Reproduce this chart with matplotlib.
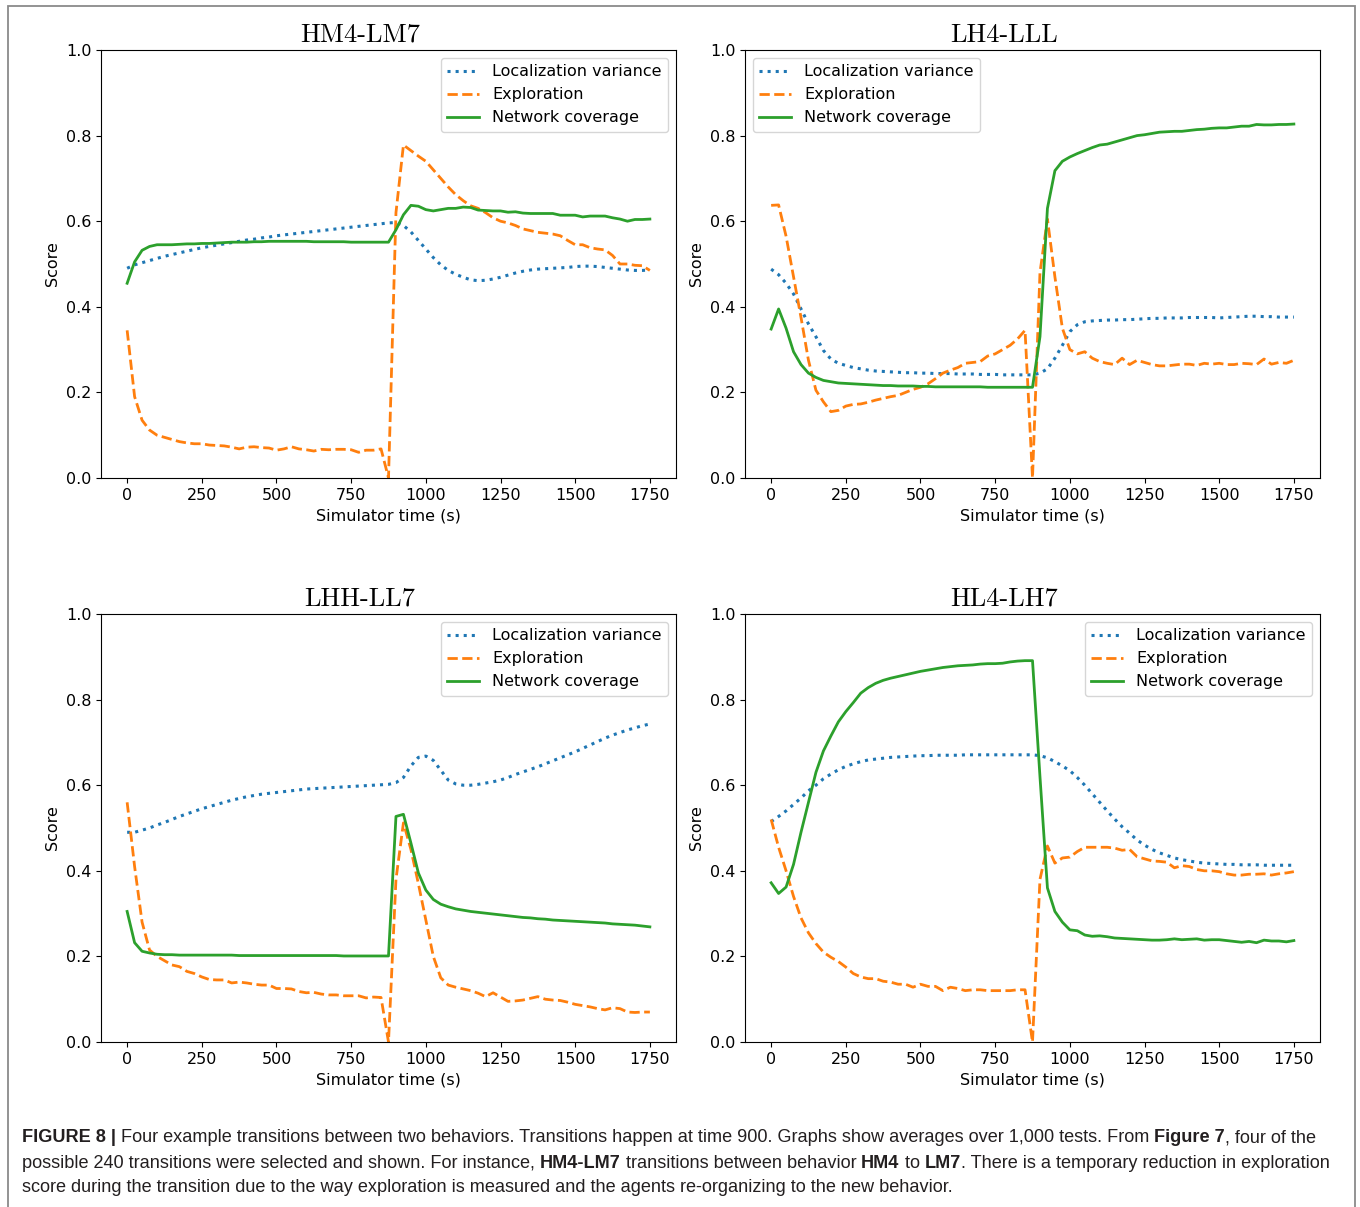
import numpy as np
import matplotlib
matplotlib.use("Agg")
import matplotlib.pyplot as plt
from matplotlib.patches import Rectangle

# simulator time, one sample every 25 s
time_s = np.arange(0, 1751, 25)

titles = ["HM4-LM7", "LH4-LLL", "LHH-LL7", "HL4-LH7"]
legend_loc = ["upper right", "upper left", "upper right", "upper right"]

hm4_loc = [0.490, 0.498, 0.503, 0.508, 0.513, 0.518, 0.522, 0.526, 0.530, 0.534,
           0.538, 0.541, 0.544, 0.547, 0.550, 0.553, 0.556, 0.558, 0.561, 0.563,
           0.566, 0.568, 0.570, 0.572, 0.574, 0.576, 0.578, 0.580, 0.582, 0.584,
           0.586, 0.588, 0.590, 0.592, 0.594, 0.596,
           0.597, 0.590, 0.575, 0.555, 0.535, 0.515, 0.498, 0.485, 0.476, 0.469,
           0.463, 0.461, 0.462, 0.465, 0.469, 0.474, 0.479, 0.483, 0.486, 0.488,
           0.489, 0.490, 0.491, 0.492, 0.494, 0.495, 0.495, 0.494, 0.492, 0.490,
           0.488, 0.486, 0.485, 0.485, 0.486]
hm4_exp = [0.345, 0.190, 0.135, 0.112, 0.100, 0.095, 0.090, 0.085, 0.082, 0.080,
           0.080, 0.077, 0.076, 0.075, 0.072, 0.068, 0.072, 0.073, 0.071, 0.070,
           0.065, 0.068, 0.073, 0.068, 0.066, 0.063, 0.067, 0.066, 0.067, 0.067,
           0.066, 0.060, 0.065, 0.065, 0.068, 0.000,
           0.620, 0.778, 0.765, 0.752, 0.740, 0.720, 0.700, 0.680, 0.662, 0.648,
           0.636, 0.630, 0.620, 0.608, 0.600, 0.596, 0.590, 0.582, 0.578, 0.574,
           0.572, 0.570, 0.566, 0.555, 0.545, 0.545, 0.538, 0.535, 0.533, 0.520,
           0.500, 0.500, 0.497, 0.496, 0.485]
hm4_net = [0.455, 0.505, 0.532, 0.541, 0.545, 0.545, 0.545, 0.546, 0.547, 0.547,
           0.548, 0.548, 0.549, 0.550, 0.551, 0.551, 0.551, 0.552, 0.552, 0.553,
           0.553, 0.553, 0.553, 0.553, 0.553, 0.552, 0.552, 0.552, 0.552, 0.552,
           0.551, 0.551, 0.551, 0.551, 0.551, 0.551,
           0.580, 0.615, 0.637, 0.635, 0.627, 0.624, 0.627, 0.630, 0.630, 0.633,
           0.632, 0.626, 0.625, 0.624, 0.624, 0.621, 0.622, 0.619, 0.618, 0.618,
           0.618, 0.618, 0.614, 0.614, 0.614, 0.610, 0.612, 0.612, 0.612, 0.608,
           0.605, 0.600, 0.604, 0.604, 0.605]

lh4_loc = [0.488, 0.475, 0.455, 0.430, 0.395, 0.360, 0.330, 0.298, 0.278, 0.268,
           0.263, 0.258, 0.255, 0.252, 0.250, 0.249, 0.248, 0.247, 0.246, 0.246,
           0.245, 0.245, 0.244, 0.244, 0.244, 0.243, 0.243, 0.243, 0.242, 0.242,
           0.242, 0.241, 0.241, 0.241, 0.241, 0.241,
           0.245, 0.255, 0.280, 0.310, 0.342, 0.358, 0.365, 0.367, 0.368, 0.369,
           0.369, 0.370, 0.370, 0.371, 0.372, 0.373, 0.373, 0.374, 0.374, 0.374,
           0.375, 0.375, 0.375, 0.375, 0.374, 0.375, 0.376, 0.377, 0.378, 0.378,
           0.377, 0.377, 0.376, 0.376, 0.376]
lh4_exp = [0.637, 0.638, 0.565, 0.470, 0.375, 0.275, 0.205, 0.178, 0.155, 0.158,
           0.168, 0.172, 0.173, 0.177, 0.182, 0.186, 0.190, 0.193, 0.200, 0.207,
           0.212, 0.220, 0.232, 0.245, 0.252, 0.258, 0.268, 0.270, 0.272, 0.285,
           0.290, 0.300, 0.310, 0.325, 0.345, 0.000,
           0.480, 0.605, 0.470, 0.350, 0.300, 0.290, 0.295, 0.280, 0.272, 0.268,
           0.265, 0.280, 0.265, 0.275, 0.270, 0.265, 0.262, 0.262, 0.264, 0.266,
           0.266, 0.263, 0.268, 0.266, 0.268, 0.265, 0.265, 0.268, 0.267, 0.265,
           0.278, 0.266, 0.270, 0.268, 0.275]
lh4_net = [0.348, 0.395, 0.350, 0.295, 0.265, 0.245, 0.235, 0.228, 0.225, 0.222,
           0.221, 0.220, 0.219, 0.218, 0.217, 0.216, 0.216, 0.215, 0.215, 0.215,
           0.214, 0.214, 0.213, 0.213, 0.213, 0.213, 0.213, 0.213, 0.213, 0.212,
           0.212, 0.212, 0.212, 0.212, 0.212, 0.212,
           0.330, 0.630, 0.718, 0.740, 0.750, 0.758, 0.765, 0.772, 0.778, 0.780,
           0.785, 0.790, 0.795, 0.800, 0.802, 0.805, 0.808, 0.809, 0.810, 0.810,
           0.812, 0.814, 0.815, 0.817, 0.818, 0.818, 0.820, 0.822, 0.822, 0.826,
           0.825, 0.825, 0.826, 0.826, 0.827]

lhh_loc = [0.490, 0.490, 0.495, 0.500, 0.507, 0.513, 0.520, 0.527, 0.533, 0.539,
           0.545, 0.550, 0.555, 0.560, 0.565, 0.569, 0.573, 0.576, 0.579, 0.581,
           0.583, 0.585, 0.587, 0.589, 0.591, 0.592, 0.593, 0.594, 0.595, 0.596,
           0.597, 0.598, 0.599, 0.600, 0.601, 0.602,
           0.606, 0.618, 0.645, 0.665, 0.668, 0.658, 0.635, 0.612, 0.603, 0.600,
           0.600, 0.602, 0.605, 0.608, 0.612, 0.618, 0.625, 0.631, 0.637, 0.643,
           0.650, 0.657, 0.664, 0.671, 0.678, 0.686, 0.694, 0.702, 0.710, 0.717,
           0.723, 0.729, 0.734, 0.739, 0.743]
lhh_exp = [0.560, 0.410, 0.280, 0.215, 0.200, 0.190, 0.180, 0.176, 0.165, 0.160,
           0.152, 0.146, 0.145, 0.145, 0.138, 0.140, 0.138, 0.135, 0.133, 0.133,
           0.125, 0.125, 0.124, 0.118, 0.115, 0.116, 0.112, 0.110, 0.110, 0.108,
           0.108, 0.108, 0.103, 0.105, 0.104, 0.000,
           0.380, 0.512, 0.450, 0.370, 0.285, 0.200, 0.150, 0.133, 0.128, 0.124,
           0.120, 0.114, 0.106, 0.115, 0.105, 0.095, 0.096, 0.098, 0.102, 0.106,
           0.100, 0.098, 0.097, 0.093, 0.088, 0.085, 0.082, 0.078, 0.075, 0.080,
           0.078, 0.070, 0.069, 0.070, 0.070]
lhh_net = [0.305, 0.232, 0.212, 0.208, 0.205, 0.204, 0.204, 0.203, 0.203, 0.203,
           0.203, 0.203, 0.203, 0.203, 0.203, 0.202, 0.202, 0.202, 0.202, 0.202,
           0.202, 0.202, 0.202, 0.202, 0.202, 0.202, 0.202, 0.202, 0.202, 0.201,
           0.201, 0.201, 0.201, 0.201, 0.201, 0.201,
           0.527, 0.532, 0.465, 0.395, 0.355, 0.333, 0.322, 0.316, 0.311, 0.308,
           0.305, 0.303, 0.301, 0.299, 0.297, 0.295, 0.293, 0.291, 0.290, 0.288,
           0.287, 0.285, 0.284, 0.283, 0.282, 0.281, 0.280, 0.279, 0.278, 0.276,
           0.275, 0.274, 0.273, 0.271, 0.269]

hl4_loc = [0.515, 0.527, 0.540, 0.555, 0.570, 0.587, 0.600, 0.615, 0.626, 0.636,
           0.644, 0.650, 0.655, 0.659, 0.661, 0.663, 0.665, 0.666, 0.667, 0.668,
           0.669, 0.669, 0.670, 0.670, 0.670, 0.670, 0.671, 0.671, 0.671, 0.671,
           0.671, 0.671, 0.671, 0.671, 0.671, 0.671,
           0.669, 0.664, 0.655, 0.645, 0.634, 0.618, 0.600, 0.580, 0.560, 0.540,
           0.521, 0.503, 0.488, 0.472, 0.460, 0.450, 0.442, 0.436, 0.430, 0.426,
           0.423, 0.420, 0.418, 0.417, 0.416, 0.415, 0.415, 0.414, 0.414, 0.414,
           0.413, 0.413, 0.413, 0.413, 0.413]
hl4_exp = [0.520, 0.455, 0.400, 0.340, 0.290, 0.255, 0.230, 0.210, 0.198, 0.188,
           0.175, 0.160, 0.152, 0.148, 0.148, 0.142, 0.140, 0.135, 0.135, 0.128,
           0.135, 0.130, 0.130, 0.120, 0.128, 0.125, 0.120, 0.122, 0.122, 0.120,
           0.120, 0.120, 0.120, 0.122, 0.122, 0.000,
           0.380, 0.458, 0.418, 0.430, 0.432, 0.445, 0.455, 0.455, 0.455, 0.455,
           0.453, 0.448, 0.450, 0.433, 0.428, 0.423, 0.422, 0.420, 0.407, 0.412,
           0.410, 0.403, 0.400, 0.400, 0.398, 0.393, 0.390, 0.390, 0.392, 0.392,
           0.393, 0.390, 0.393, 0.395, 0.398]
hl4_net = [0.372, 0.347, 0.362, 0.415, 0.490, 0.560, 0.630, 0.680, 0.715, 0.748,
           0.772, 0.793, 0.815, 0.828, 0.838, 0.845, 0.850, 0.854, 0.858, 0.862,
           0.866, 0.869, 0.872, 0.875, 0.877, 0.879, 0.880, 0.881, 0.883, 0.884,
           0.884, 0.885, 0.888, 0.890, 0.891, 0.891,
           0.620, 0.360, 0.305, 0.280, 0.262, 0.260, 0.250, 0.247, 0.248, 0.246,
           0.243, 0.242, 0.241, 0.240, 0.239, 0.238, 0.238, 0.239, 0.241, 0.239,
           0.240, 0.241, 0.238, 0.239, 0.239, 0.237, 0.235, 0.233, 0.235, 0.232,
           0.238, 0.236, 0.236, 0.234, 0.237]

panels = [(hm4_loc, hm4_exp, hm4_net), (lh4_loc, lh4_exp, lh4_net),
          (lhh_loc, lhh_exp, lhh_net), (hl4_loc, hl4_exp, hl4_net)]

W, H = 1360, 1207
fig = plt.figure(figsize=(W / 100, H / 100), dpi=100)

# axes boxes in pixels: left, top, right, bottom
boxes = [(101, 50, 676, 478), (745, 50, 1320, 478),
         (101, 614, 676, 1042), (745, 614, 1320, 1042)]

fs = 11.5
for i, (loc, exp, net) in enumerate(panels):
    l, t, r, b = boxes[i]
    ax = fig.add_axes([l / W, 1 - b / H, (r - l) / W, (b - t) / H])
    ax.plot(time_s, loc, ':', color='tab:blue', lw=2.2, label='Localization variance')
    ax.plot(time_s, exp, '--', color='tab:orange', lw=2, label='Exploration')
    ax.plot(time_s, net, '-', color='tab:green', lw=2, label='Network coverage')
    ax.set_ylim(0, 1)
    ax.set_yticks([0.0, 0.2, 0.4, 0.6, 0.8, 1.0])
    ax.set_xticks([0, 250, 500, 750, 1000, 1250, 1500, 1750])
    ax.tick_params(labelsize=fs)
    ax.set_xlabel('Simulator time (s)', fontsize=fs)
    ax.set_ylabel('Score', fontsize=fs)
    ax.set_title(titles[i], fontname='cmr10', fontsize=19, pad=6, x=0.45)
    ax.legend(loc=legend_loc[i], fontsize=fs)

# grey frame around the whole figure
fig.add_artist(Rectangle((8 / W, -0.01), (1355 - 8) / W, 1 - 6 / H + 0.01,
                         transform=fig.transFigure, fill=False,
                         edgecolor='#8a8a8a', lw=1.3, clip_on=False))

# caption, drawn piece by piece to mix bold and normal text
caption = [
    [("FIGURE 8 |", True),
     (" Four example transitions between two behaviors. Transitions happen at time 900. "
      "Graphs show averages over 1,000 tests. From ", False),
     ("Figure 7", True), (", four of the", False)],
    [("possible 240 transitions were selected and shown. For instance, ", False),
     ("HM4-LM7", True), (" transitions between behavior ", False), ("HM4", True),
     (" to ", False), ("LM7", True),
     (". There is a temporary reduction in exploration", False)],
    [("score during the transition due to the way exploration is measured and the agents "
      "re-organizing to the new behavior.", False)],
]
renderer = fig.canvas.get_renderer()
cap_y = [1138, 1163, 1188]
for row, y in zip(caption, cap_y):
    x = 22
    for txt, bold in row:
        tx = fig.text(x / W, 1 - y / H, txt, fontsize=13.1, family='Liberation Sans',
                      fontweight='bold' if bold else 'normal', color='#231f20',
                      ha='left', va='center')
        x += tx.get_window_extent(renderer).width

fig.savefig('out.png', dpi=100)
